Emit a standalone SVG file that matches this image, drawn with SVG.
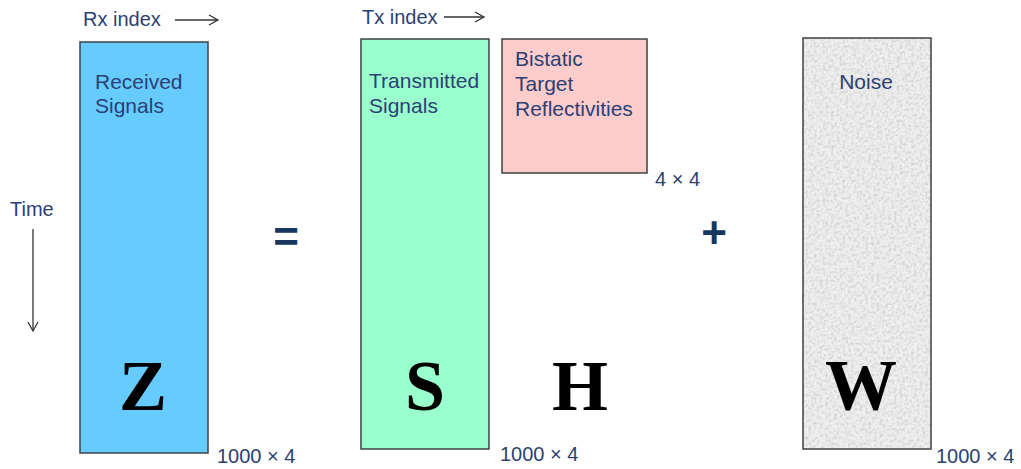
<svg xmlns="http://www.w3.org/2000/svg" width="1021" height="469" viewBox="0 0 1021 469">
<style>
.lbl{font-family:"Liberation Sans",Arial,sans-serif;font-size:21px;fill:#2B3F73}
.small{font-family:"Liberation Sans",Arial,sans-serif;font-size:20px;fill:#2B3F73}
.big{font-family:"Liberation Serif","Times New Roman",serif;font-size:72px;font-weight:bold;fill:#000;text-anchor:middle}
.op{font-family:"Liberation Sans",Arial,sans-serif;font-size:44px;font-weight:bold;fill:#17375E;text-anchor:middle}
.box{stroke:#404040;stroke-width:1.5}
.arr{stroke:#333;stroke-width:1.3;fill:none}
</style>
<defs>
<marker id="ah" markerWidth="12" markerHeight="12" refX="10" refY="6" orient="auto" markerUnits="userSpaceOnUse">
<path d="M1,1 L10,6 L1,11" fill="none" stroke="#333" stroke-width="1.3"/>
</marker>
<filter id="noise" x="0" y="0" width="100%" height="100%">
<feTurbulence type="fractalNoise" baseFrequency="0.35" numOctaves="3" seed="4" result="t"/>
<feColorMatrix in="t" type="matrix" values="0 0 0 0 0.55  0 0 0 0 0.55  0 0 0 0 0.55  -1.6 0 0 0 0.95" result="g"/>
<feComposite in="g" in2="SourceGraphic" operator="in"/>
</filter>
</defs>
<g id="connectors">
<line class="arr" x1="175" y1="20" x2="218" y2="20" marker-end="url(#ah)"/>
<line class="arr" x1="444" y1="17" x2="484" y2="17" marker-end="url(#ah)"/>
<line class="arr" x1="33" y1="229" x2="33" y2="331" marker-end="url(#ah)"/>
</g>
<g id="labels">
<text class="small" x="83" y="26">Rx index</text>
<text class="small" x="362" y="24">Tx index</text>
<text class="small" x="10" y="216">Time</text>
</g>
<g id="Z">
<rect class="box" x="80" y="42" width="128" height="411" fill="#66CCFF"/>
<text class="lbl" x="95" y="89">Received</text>
<text class="lbl" x="95" y="113">Signals</text>
<text class="big" x="143" y="410">Z</text>
<text class="small" x="217" y="463">1000 × 4</text>
</g>
<g id="equals"><text class="op" x="286" y="252">=</text></g>
<g id="S">
<rect class="box" x="361" y="39" width="128" height="410" fill="#99FFCC"/>
<text class="lbl" x="369" y="88">Transmitted</text>
<text class="lbl" x="369" y="113">Signals</text>
<text class="big" x="425" y="410">S</text>
<text class="small" x="500" y="461">1000 × 4</text>
</g>
<g id="H">
<rect class="box" x="502" y="39" width="145" height="134" fill="#FFCCCC"/>
<text class="lbl" x="515" y="66">Bistatic</text>
<text class="lbl" x="515" y="91">Target</text>
<text class="lbl" x="515" y="116">Reflectivities</text>
<text class="big" x="580" y="410">H</text>
<text class="small" x="655" y="186">4 × 4</text>
</g>
<g id="plus"><text class="op" x="714" y="248">+</text></g>
<g id="W">
<rect x="803" y="38" width="128" height="411" fill="#EFEFEF"/>
<rect x="803" y="38" width="128" height="411" fill="#EFEFEF" filter="url(#noise)"/>
<rect class="box" x="803" y="38" width="128" height="411" fill="none"/>
<text class="lbl" x="866" y="89" text-anchor="middle">Noise</text>
<text class="big" x="861" y="409">W</text>
<text class="small" x="936" y="463">1000 × 4</text>
</g>
</svg>
